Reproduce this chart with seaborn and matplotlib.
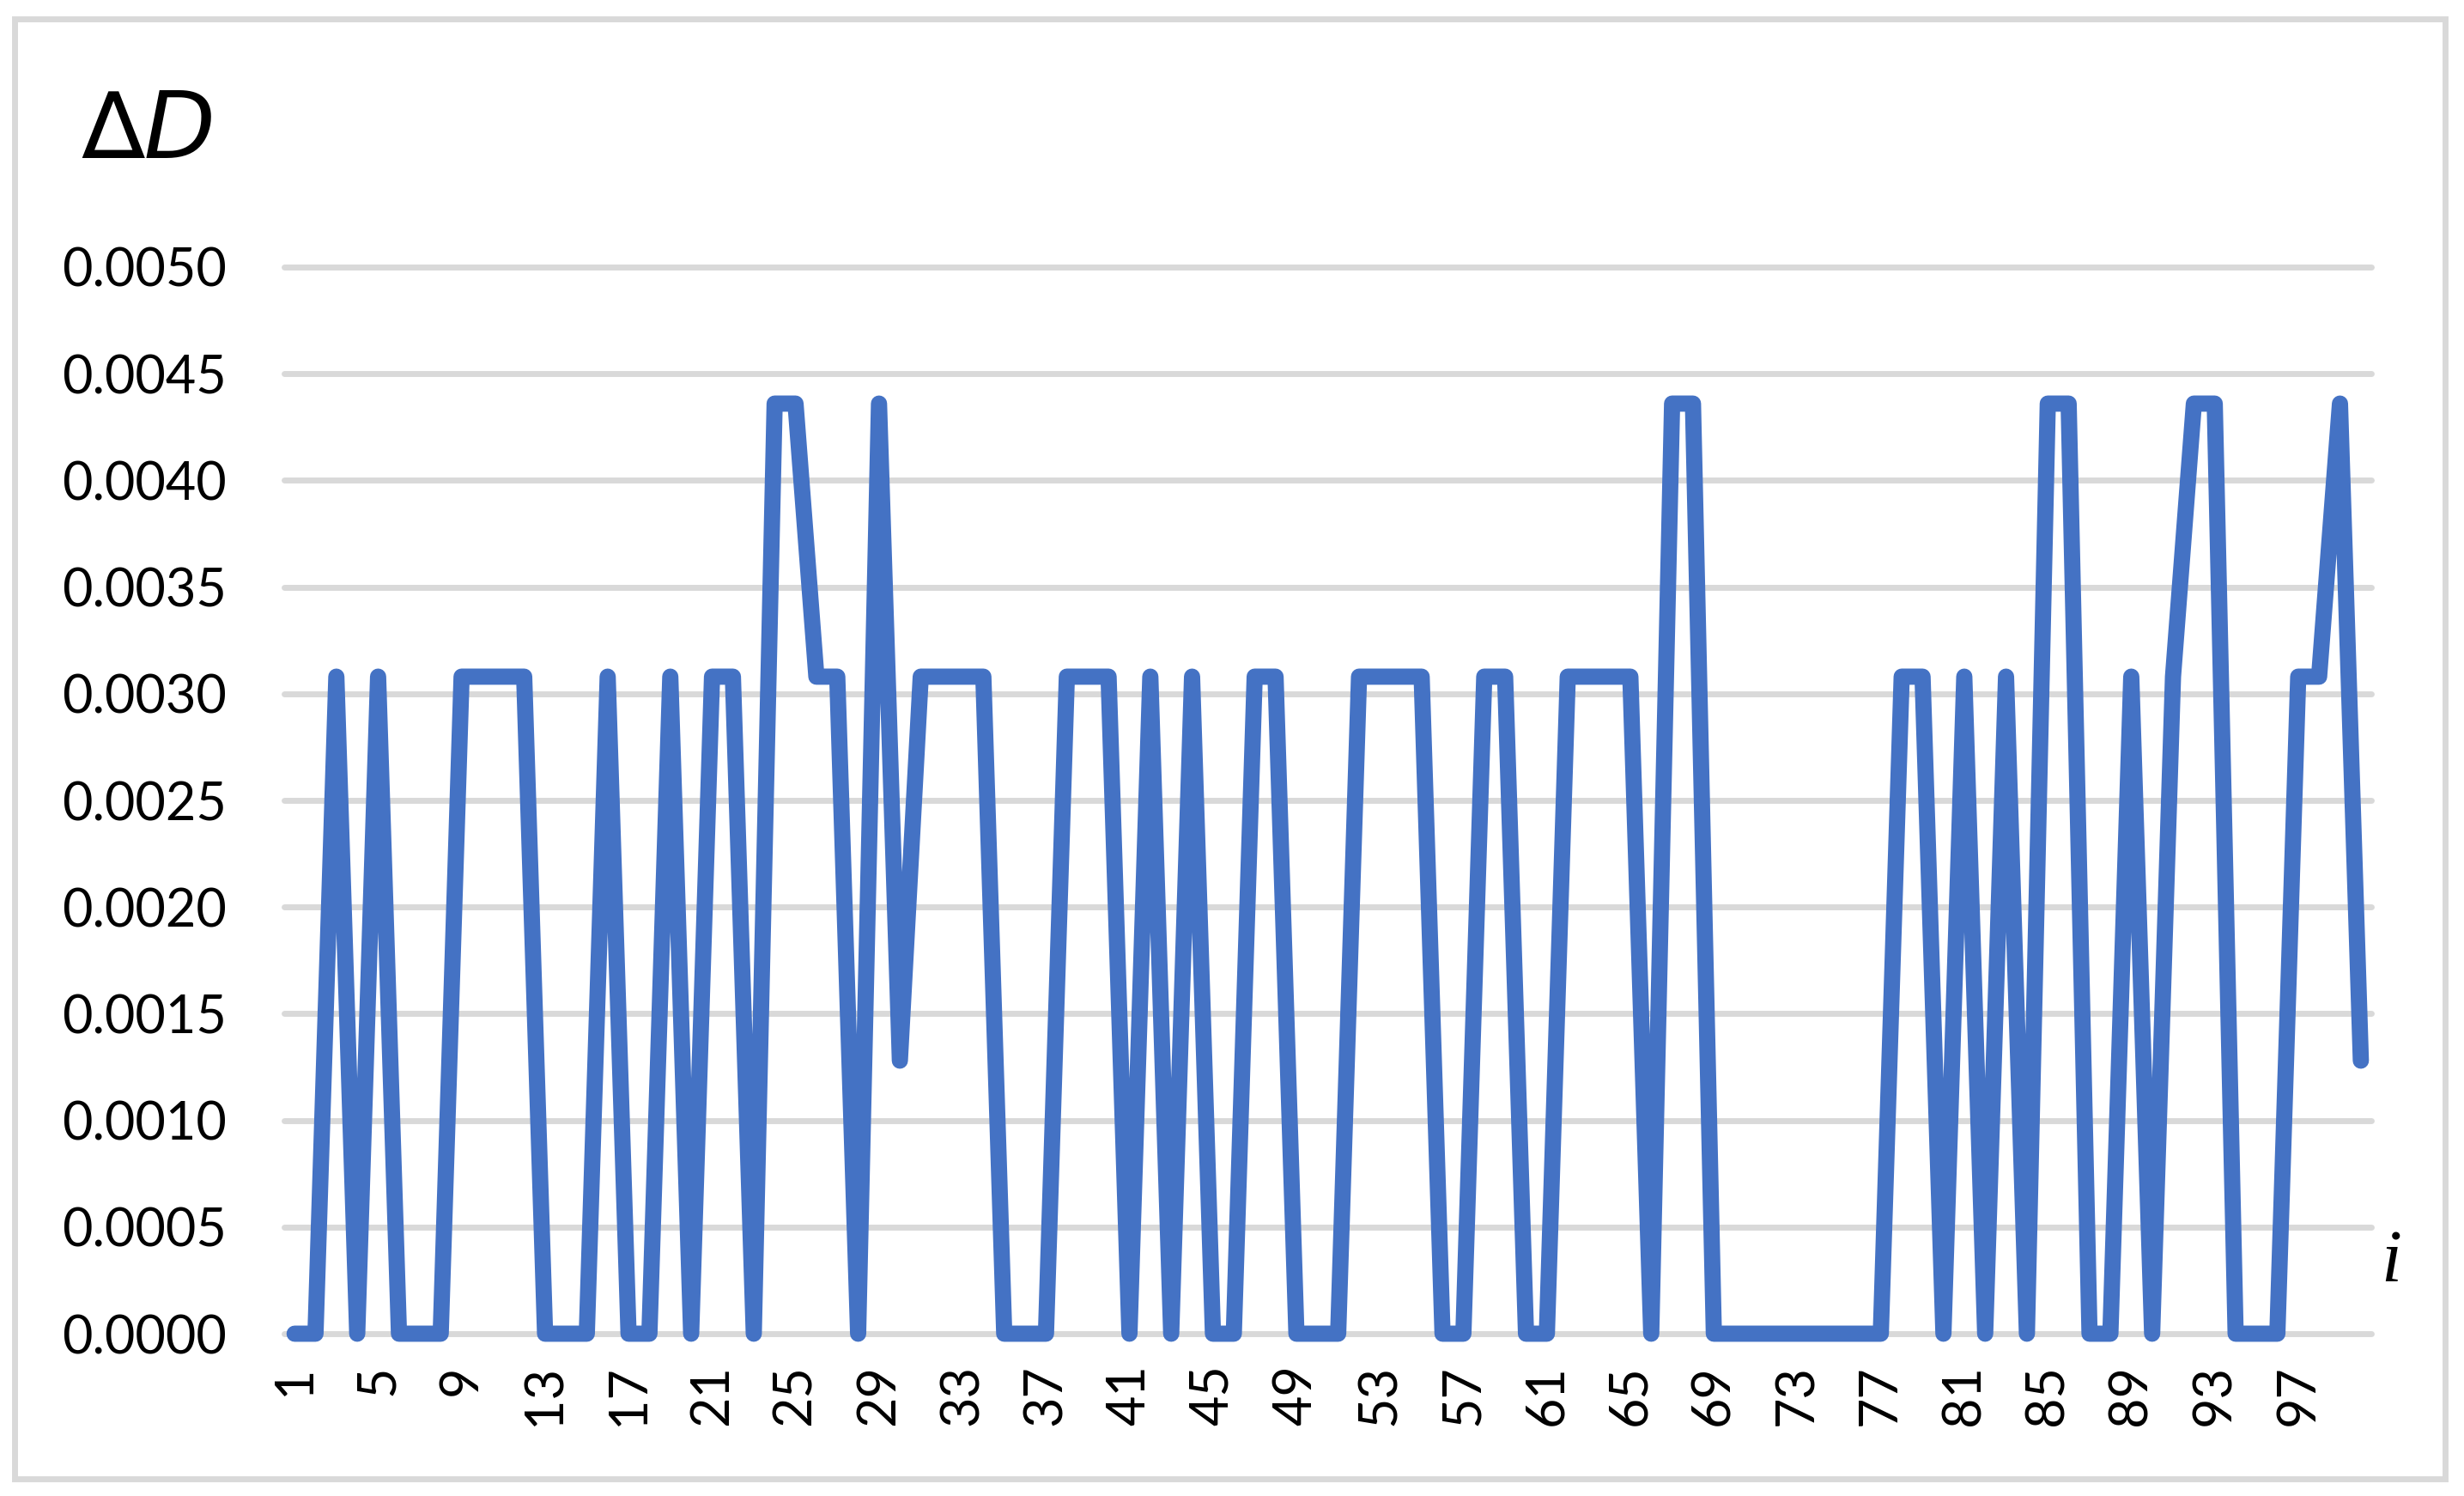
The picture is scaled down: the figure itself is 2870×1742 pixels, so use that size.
import matplotlib
matplotlib.use("Agg")
import matplotlib.pyplot as plt
import seaborn as sns
import pandas as pd
from matplotlib.patches import Rectangle

# data
index_i = list(range(1, 101))
delta_d = [
    0.0, 0.0, 0.00308, 0.0, 0.00308, 0.0, 0.0, 0.0, 0.00308, 0.00308,
    0.00308, 0.00308, 0.0, 0.0, 0.0, 0.00308, 0.0, 0.0, 0.00308, 0.0,
    0.00308, 0.00308, 0.0, 0.00436, 0.00436, 0.00308, 0.00308, 0.0, 0.00436, 0.00128,
    0.00308, 0.00308, 0.00308, 0.00308, 0.0, 0.0, 0.0, 0.00308, 0.00308, 0.00308,
    0.0, 0.00308, 0.0, 0.00308, 0.0, 0.0, 0.00308, 0.00308, 0.0, 0.0,
    0.0, 0.00308, 0.00308, 0.00308, 0.00308, 0.0, 0.0, 0.00308, 0.00308, 0.0,
    0.0, 0.00308, 0.00308, 0.00308, 0.00308, 0.0, 0.00436, 0.00436, 0.0, 0.0,
    0.0, 0.0, 0.0, 0.0, 0.0, 0.0, 0.0, 0.00308, 0.00308, 0.0,
    0.00308, 0.0, 0.00308, 0.0, 0.00436, 0.00436, 0.0, 0.0, 0.00308, 0.0,
    0.00308, 0.00436, 0.00436, 0.0, 0.0, 0.0, 0.00308, 0.00308, 0.00436, 0.00128,
]
x_ticks = [1, 5, 9, 13, 17, 21, 25, 29, 33, 37, 41, 45, 49,
           53, 57, 61, 65, 69, 73, 77, 81, 85, 89, 93, 97]
y_ticks = [0.0, 0.0005, 0.0010, 0.0015, 0.0020, 0.0025,
           0.0030, 0.0035, 0.0040, 0.0045, 0.0050]

df = pd.DataFrame({"i": index_i, "dD": delta_d})

sns.set_style("white")
plt.rcParams['font.family'] = ['Lato', 'DejaVu Sans']

W, H = 2870, 1742
fig = plt.figure(figsize=(W / 200, H / 200), dpi=200)
ax = fig.add_axes([331 / W, 1 - 1553 / H, (2762 - 331) / W, (1553 - 311) / H])

grid_c = '#D9D9D9'
for y in y_ticks:
    ax.axhline(y, color=grid_c, lw=2.5, zorder=0, clip_on=False)

sns.lineplot(data=df, x="i", y="dD", ax=ax, color='#4472C4', lw=6.8,
             solid_joinstyle='round', solid_capstyle='round', clip_on=False, zorder=3)

ax.set_xlim(0.5, 100.5)
ax.set_ylim(0, 0.005)
ax.set_xticks(x_ticks)
ax.set_xticklabels([str(t) for t in x_ticks], rotation=90)
ax.set_yticks(y_ticks)
ax.set_yticklabels([f"{t:.4f}" for t in y_ticks])
ax.tick_params(axis='both', length=0, labelsize=22, colors='black')
ax.tick_params(axis='y', pad=24)
ax.tick_params(axis='x', pad=13)
ax.set_xlabel('')
ax.set_ylabel('')
for s in ax.spines.values():
    s.set_visible(False)

# axis captions
fig.text(95 / W, 1 - 184 / H, '∆D', fontsize=39, style='italic', color='black',
         family=['DejaVu Sans'], ha='left', va='baseline')
fig.text(2785 / W, 1 - 1471 / H, 'i', fontsize=31, style='italic', color='black',
         family=['Liberation Serif'], ha='center', va='center')

# chart border
fig.patches.append(Rectangle((17 / W, 1 - 1722 / H), (2848 - 17) / W, (1722 - 22) / H,
                             transform=fig.transFigure, fill=False,
                             ec=grid_c, lw=2.5))

fig.savefig('out.png', dpi=200)
